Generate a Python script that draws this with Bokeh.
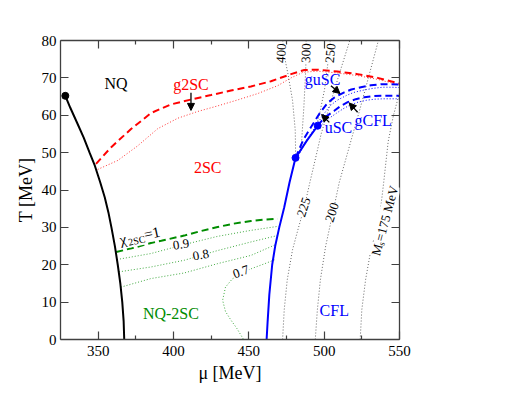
import math
from bokeh.plotting import figure
from bokeh.models import Range1d, LinearAxis, FixedTicker, Label, Arrow, NormalHead
from bokeh.embed import file_html
from bokeh.resources import INLINE

FONT = "Liberation Serif"

# ---------------- data ----------------
x_ticks = [350, 400, 450, 500, 550]
x_minor = [375, 425, 475, 525]
y_ticks = [0, 10, 20, 30, 40, 50, 60, 70, 80]

nq_mu = [328.2, 331.5, 336.0, 340.4, 344.3, 347.8, 351.4, 354.4, 356.8, 358.8, 361.1, 363.0, 364.7, 366.0, 366.9, 367.3]
nq_T = [65.2, 62.0, 58.0, 54.0, 50.0, 46.5, 42.0, 38.0, 34.0, 30.0, 25.0, 20.0, 15.0, 10.0, 5.0, 0.0]

g2sc_mu = [348.6, 358.5, 371.8, 385.1, 398.3, 411.6, 424.9, 438.1, 451.4, 464.7, 478.0, 486.8, 495.7, 508.9, 522.2, 535.5, 550.0]
g2sc_T = [47.0, 51.4, 56.3, 60.6, 62.9, 64.2, 65.4, 66.6, 67.7, 69.1, 71.0, 72.1, 72.2, 71.7, 71.0, 70.0, 68.5]

t2sc_mu = [349.7, 363.0, 376.2, 389.5, 402.8, 416.0, 429.3, 442.6, 455.9, 469.1, 478.0, 486.0, 495.7, 508.9, 522.2, 535.5, 550.0]
t2sc_T = [45.5, 47.9, 51.8, 56.4, 59.2, 61.0, 62.5, 64.1, 65.8, 67.9, 70.0, 71.5, 71.8, 71.3, 70.6, 69.6, 68.1]

cfl_mu = [461.8, 462.5, 463.6, 465.5, 467.5, 470.2, 473.5, 477.0, 481.0, 488.5, 495.7]
cfl_T = [0.0, 5.0, 12.0, 20.0, 25.0, 30.0, 35.4, 42.0, 48.6, 53.2, 57.2]

gusc_mu = [481.0, 486.0, 491.2, 497.0, 502.3, 507.0, 513.3, 518.0, 524.4, 531.0, 537.7, 544.0, 550.0]
gusc_T = [48.6, 53.3, 56.8, 60.5, 63.3, 64.8, 66.1, 66.9, 67.5, 68.0, 68.3, 68.3, 68.2]
usc_mu = [482.0, 487.5, 492.8, 498.6, 503.8, 508.6, 514.8, 519.6, 525.9, 532.4, 539.0, 545.0, 550.0]
usc_T = [48.4, 52.8, 56.1, 59.7, 62.5, 64.0, 65.3, 66.1, 66.7, 67.2, 67.5, 67.5, 67.4]

gcfl_mu = [495.7, 500.0, 506.7, 511.0, 515.6, 521.0, 526.6, 532.0, 537.7, 544.0, 550.0]
gcfl_T = [57.2, 59.3, 61.2, 62.5, 63.5, 64.3, 64.8, 65.1, 65.2, 65.2, 65.2]
gcfl2_mu = [497.0, 501.5, 508.0, 512.5, 517.0, 522.4, 528.0, 533.4, 539.0, 545.0, 550.0]
gcfl2_T = [56.9, 58.7, 60.5, 61.7, 62.7, 63.5, 64.0, 64.3, 64.4, 64.4, 64.4]

ms400_mu = [472.5, 473.5, 476.0, 479.0, 480.8, 481.1]
ms400_T = [80.0, 76.0, 71.0, 64.0, 56.0, 48.6]
ms300_mu = [488.0, 488.0, 487.5, 486.5, 485.5, 484.8]
ms300_T = [80.0, 75.0, 70.0, 62.0, 56.0, 51.3]
ms250_mu = [504.0, 502.5, 500.3, 497.3, 494.3]
ms250_T = [80.0, 74.0, 67.0, 61.0, 56.2]
ms225_mu = [472.4, 473.5, 475.5, 479.0, 483.0, 486.8, 490.5, 494.0, 498.0, 504.0, 510.0, 517.0]
ms225_T = [0.0, 8.0, 16.0, 24.0, 30.0, 35.4, 42.0, 48.0, 55.0, 63.0, 71.0, 80.0]
ms200_mu = [494.1, 495.5, 497.5, 501.0, 505.6, 510.0, 517.8, 524.0, 530.0, 536.0]
ms200_T = [0.0, 8.0, 16.0, 25.0, 33.6, 42.0, 53.2, 62.0, 71.0, 80.0]
ms175_mu = [523.9, 525.0, 527.5, 531.0, 536.6, 539.5, 542.5, 546.0, 550.0]
ms175_T = [0.0, 8.0, 16.0, 24.0, 32.0, 42.0, 53.0, 60.0, 66.0]

chi10_mu = [362.0, 374.0, 385.0, 396.0, 407.1, 418.0, 429.3, 440.0, 451.4, 460.0, 469.1]
chi10_T = [23.4, 24.6, 25.8, 26.8, 27.8, 29.0, 30.1, 31.0, 31.7, 32.1, 32.3]
chi09_mu = [362.5, 385.0, 407.1, 429.3, 451.4, 469.8]
chi09_T = [21.4, 23.0, 25.4, 27.6, 29.2, 30.3]
chi08_mu = [363.8, 385.0, 407.1, 429.3, 451.4, 468.8]
chi08_T = [18.1, 19.4, 21.2, 23.8, 26.1, 27.8]
chi075_mu = [365.0, 385.0, 407.1, 429.3, 451.4, 467.3]
chi075_T = [14.0, 16.3, 17.8, 20.3, 22.5, 25.3]
chi07_mu = [467.0, 460.0, 452.0, 445.5, 439.0, 434.5, 432.6, 434.5, 438.1, 442.0, 446.5]
chi07_T = [21.3, 20.2, 19.0, 17.8, 16.2, 14.0, 10.5, 7.5, 5.2, 3.0, 0.0]

crit_mu = [328.2]
crit_T = [65.2]
blue_dot_mu = [481.0, 495.7]
blue_dot_T = [48.6, 57.2]

RED = "#ff0000"
BLUE = "#0000ff"
GREEN = "#008c00"
GRAY = "#666666"
AX = "#404040"

# ---------------- figure ----------------
p = figure(frame_width=339, frame_height=299,
           x_range=Range1d(325, 550), y_range=Range1d(0, 80),
           output_backend="svg", toolbar_location=None,
           min_border_left=60, min_border_right=100,
           min_border_top=40, min_border_bottom=44)
p.outline_line_color = None
p.xgrid.visible = False
p.ygrid.visible = False
p.background_fill_color = "white"


def style_axis(ax, ticker, show_labels):
    ax.ticker = ticker
    ax.axis_line_color = AX
    ax.axis_line_width = 1.3
    ax.major_tick_line_color = AX
    ax.minor_tick_line_color = AX
    ax.major_tick_line_width = 1.2
    ax.minor_tick_line_width = 1.2
    ax.major_tick_in = 8
    ax.major_tick_out = 0
    ax.minor_tick_in = 4
    ax.minor_tick_out = 0
    ax.major_label_text_font = FONT
    ax.major_label_text_font_size = "15px"
    ax.major_label_text_color = "black" if show_labels else None
    ax.axis_label_text_font = FONT
    ax.axis_label_text_font_style = "normal"
    ax.axis_label_text_font_size = "18px"
    ax.axis_label_text_color = "black"


style_axis(p.xaxis[0], FixedTicker(ticks=x_ticks, minor_ticks=x_minor), True)
style_axis(p.yaxis[0], FixedTicker(ticks=y_ticks, minor_ticks=[]), True)
p.xaxis[0].axis_label = "μ [MeV]"
p.yaxis[0].axis_label = "T [MeV]"
p.xaxis[0].major_label_standoff = 6
p.xaxis[0].axis_label_standoff = 4
p.yaxis[0].major_label_standoff = 4
p.yaxis[0].axis_label_standoff = 3

top = LinearAxis()
style_axis(top, FixedTicker(ticks=x_ticks, minor_ticks=x_minor), False)
top.major_label_text_font_size = "1px"
p.add_layout(top, "above")
right = LinearAxis()
style_axis(right, FixedTicker(ticks=y_ticks, minor_ticks=[]), False)
right.major_label_text_font_size = "1px"
p.add_layout(right, "right")

# ---------------- lines ----------------
dot = "1 2"
for mu, T in [(ms400_mu, ms400_T), (ms300_mu, ms300_T), (ms250_mu, ms250_T),
              (ms225_mu, ms225_T), (ms200_mu, ms200_T), (ms175_mu, ms175_T)]:
    p.line(mu, T, line_color=GRAY, line_width=1, line_dash=dot)

for mu, T in [(chi09_mu, chi09_T), (chi08_mu, chi08_T), (chi075_mu, chi075_T), (chi07_mu, chi07_T)]:
    p.line(mu, T, line_color=GREEN, line_width=1, line_dash=dot, line_alpha=0.75)
p.line(chi10_mu, chi10_T, line_color=GREEN, line_width=2, line_dash="7 4")

p.line(t2sc_mu, t2sc_T, line_color=RED, line_width=1, line_dash=dot, line_alpha=0.8)
p.line(g2sc_mu, g2sc_T, line_color=RED, line_width=2, line_dash="7 4")

p.line(usc_mu, usc_T, line_color=BLUE, line_width=1, line_dash=dot)
p.line(gcfl2_mu, gcfl2_T, line_color=BLUE, line_width=1, line_dash=dot)
p.line(gusc_mu, gusc_T, line_color=BLUE, line_width=2, line_dash="7 4")
p.line(gcfl_mu, gcfl_T, line_color=BLUE, line_width=2, line_dash="7 4")
p.line(cfl_mu, cfl_T, line_color=BLUE, line_width=2)

p.line(nq_mu, nq_T, line_color="black", line_width=2)
p.scatter(crit_mu, crit_T, size=7, color="black")
p.scatter(blue_dot_mu, blue_dot_T, size=7, color=BLUE)


# ---------------- labels ----------------
def lab(x, y, text, color="black", size="16px", angle=0.0, align="center", base="middle", bg=None, dx=0, dy=0):
    L = Label(x=x, y=y, text=text, text_color=color, text_font=FONT, text_font_size=size,
              angle=angle, text_align=align, text_baseline=base, x_offset=dx, y_offset=dy)
    if bg:
        L.background_fill_color = bg
    p.add_layout(L)


lab(361.9, 68.4, "NQ")
lab(411.6, 68.3, "g2SC", RED)
lab(422.7, 46.1, "2SC", RED)
lab(499.0, 69.6, "guSC", BLUE)
lab(509.5, 56.6, "uSC", BLUE)
lab(532.5, 58.6, "gCFL", BLUE)
lab(398.3, 6.9, "NQ-2SC", GREEN)
lab(506.7, 7.8, "CFL", BLUE)

# contour labels (inline)
lab(471.6, 76.6, "400", "black", "13px", math.radians(86), bg="white")
lab(488.2, 76.6, "300", "black", "13px", math.radians(88), bg="white")
lab(504.3, 76.6, "250", "black", "13px", math.radians(85), bg="white")
lab(486.6, 35.4, "225", "black", "13px", math.radians(72), bg="white")
lab(505.4, 34.0, "200", "black", "13px", math.radians(72), bg="white")
lab(405.0, 25.4, "0.9", "black", "13px", math.radians(8), bg="white")
lab(418.2, 22.6, "0.8", "black", "13px", math.radians(10), bg="white")
lab(444.8, 18.1, "0.7", "black", "13px", math.radians(20), bg="white")


def rich(x, y, pieces, angle_deg):
    a = math.radians(angle_deg)
    ca, sa = math.cos(a), math.sin(a)
    for text, size, d, s in pieces:
        dx = d * ca - s * sa
        dy = d * sa + s * ca
        L = Label(x=x, y=y, text=text, text_font=FONT, text_font_size=size, text_color="black",
                  angle=a, text_align="left", text_baseline="alphabetic",
                  x_offset=dx, y_offset=dy, background_fill_color="white")
        p.add_layout(L)


rich(364.3, 26.6, [("χ", "15px", 0, 0), ("2SC", "10px", 8, -4), ("=1", "15px", 25, 0)], 12)
rich(534.0, 22.5, [("M", "13px", 0, 0), ("s", "9px", 11, -3), ("=175 MeV", "13px", 15, 0)], 75)

# arrows
def arr(x0, y0, x1, y1):
    p.add_layout(Arrow(x_start=x0, y_start=y0, x_end=x1, y_end=y1, line_color="black", line_width=1.3,
                       end=NormalHead(size=7, fill_color="black", line_color="black")))


arr(411.6, 66.0, 411.6, 61.3)
arr(504.5, 67.9, 510.5, 65.8)
arr(503.4, 58.1, 498.3, 60.2)
arr(522.2, 60.8, 516.6, 63.3)

open("out.html", "w").write(file_html(p, INLINE))
